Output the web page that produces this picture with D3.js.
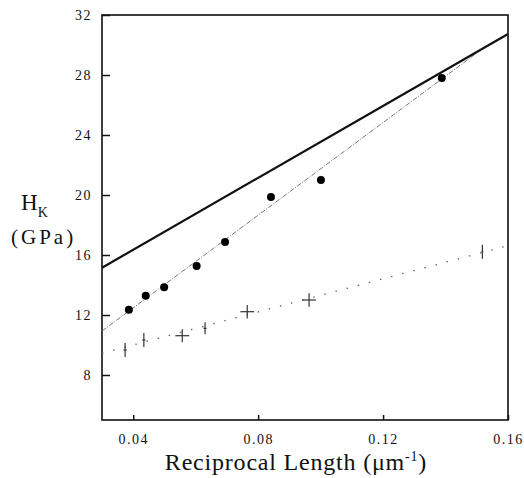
<!DOCTYPE html>
<html>
<head>
<meta charset="utf-8">
<script src="https://cdn.jsdelivr.net/npm/d3@7/dist/d3.min.js"></script>
<style>
  body { margin: 0; background: #fff; }
</style>
</head>
<body>
<svg id="chart" width="524" height="478"></svg>
<script>
// measured points (filled circles)
var dotX = [0.0386, 0.044, 0.0499, 0.0603, 0.0694, 0.0841, 0.1001, 0.1388];
var dotY = [12.35, 13.29, 13.85, 15.27, 16.87, 19.87, 21.0, 27.8];
// second series (crosses with error bars)
var plusX = [0.0374, 0.0434, 0.0557, 0.063, 0.0765, 0.0963, 0.1518];
var plusY = [9.67, 10.33, 10.62, 11.11, 12.22, 13.0, 16.22];
var plusXErr = [0.0005, 0.0005, 0.0022, 0.0005, 0.0022, 0.0022, 0.0003];
var plusYErr = [0.47, 0.47, 0.43, 0.4, 0.45, 0.45, 0.47];
// lines (end points)
var upperX = [0.03, 0.16], upperY = [15.15, 30.73];
var fitX = [0.03, 0.1499], fitY = [10.93, 29.45];
var lowerX = [0.03, 0.16], lowerY = [9.45, 16.62];
// ticks
var xTicks = [0.04, 0.08, 0.12, 0.16];
var yTicks = [8, 12, 16, 20, 24, 28, 32];

var serif = "Liberation Serif";
var marge = {top:15, bottom:58, left:102, right:16};
var svg = d3.select("#chart");
var width = 524 - marge.left - marge.right;
var height = 478 - marge.top - marge.bottom;
var g = svg.append("g").attr("transform","translate("+marge.left+","+marge.top+")");

var x = d3.scaleLinear().domain([0.03, 0.16]).range([0, width]);
var y = d3.scaleLinear().domain([5, 32]).range([height, 0]);

// axes (ticks point inward)
var xAxis = g.append("g").attr("transform","translate(0,"+height+")")
  .call(d3.axisBottom(x).tickValues(xTicks).tickSize(-5).tickPadding(14).tickFormat(d3.format(".2f")));
var yAxis = g.append("g")
  .call(d3.axisLeft(y).tickValues(yTicks).tickSize(-8).tickPadding(10));
[xAxis, yAxis].forEach(function(a){
  a.attr("font-family", serif).attr("font-size", 14);
  a.select(".domain").remove();
  a.selectAll("line").attr("stroke","#111").attr("stroke-width",1.5);
  a.selectAll("text").attr("fill","#111")
    .style("font-family", serif).style("font-size","14px").style("letter-spacing","1.5px");
});

// frame
g.append("rect").attr("x",0).attr("y",0).attr("width",width).attr("height",height)
  .attr("fill","none").attr("stroke","#111").attr("stroke-width",1.6);

var line = d3.line().x(function(d){return x(d[0]);}).y(function(d){return y(d[1]);});
function pts(xs, ys){ return xs.map(function(v,i){ return [v, ys[i]]; }); }

g.append("path").attr("d", line(pts(lowerX, lowerY)))
  .attr("fill","none").attr("stroke","#666").attr("stroke-width",1.3).attr("stroke-dasharray","1.5 10");
g.append("path").attr("d", line(pts(fitX, fitY)))
  .attr("fill","none").attr("stroke","#666").attr("stroke-width",0.9).attr("stroke-dasharray","5 1.5 1 1.5");
g.append("path").attr("d", line(pts(upperX, upperY)))
  .attr("fill","none").attr("stroke","#111").attr("stroke-width",2.2);

// crosses
var pl = g.append("g").selectAll(".plus").data(plusX.map(function(v,i){return i;})).enter().append("g");
pl.append("line")
  .attr("x1",function(i){return x(plusX[i]-plusXErr[i]);}).attr("x2",function(i){return x(plusX[i]+plusXErr[i]);})
  .attr("y1",function(i){return y(plusY[i]);}).attr("y2",function(i){return y(plusY[i]);})
  .attr("stroke","#333").attr("stroke-width",1.2);
pl.append("line")
  .attr("x1",function(i){return x(plusX[i]);}).attr("x2",function(i){return x(plusX[i]);})
  .attr("y1",function(i){return y(plusY[i]-plusYErr[i]);}).attr("y2",function(i){return y(plusY[i]+plusYErr[i]);})
  .attr("stroke","#333").attr("stroke-width",1.2);

// dots
g.append("g").selectAll("circle").data(dotX).enter().append("circle")
  .attr("cx",function(d){return x(d);}).attr("cy",function(d,i){return y(dotY[i]);})
  .attr("r",4).attr("fill","#000");

// axis titles
svg.append("text").attr("x",296).attr("y",470).attr("text-anchor","middle")
  .attr("font-family",serif).attr("font-size",24).attr("fill","#111").style("letter-spacing","0.8px")
  .html('Reciprocal Length (μm<tspan dy="-9" font-size="14">-1</tspan><tspan dy="9">)</tspan>');
svg.append("text").attr("x",21).attr("y",210).attr("font-family",serif).attr("font-size",23).attr("fill","#111")
  .html('H<tspan dy="7" font-size="14">K</tspan>');
svg.append("text").attr("x",11).attr("y",244).attr("font-family",serif).attr("font-size",21).attr("fill","#111").style("letter-spacing","3px")
  .text("(GPa)");
</script>
</body>
</html>
